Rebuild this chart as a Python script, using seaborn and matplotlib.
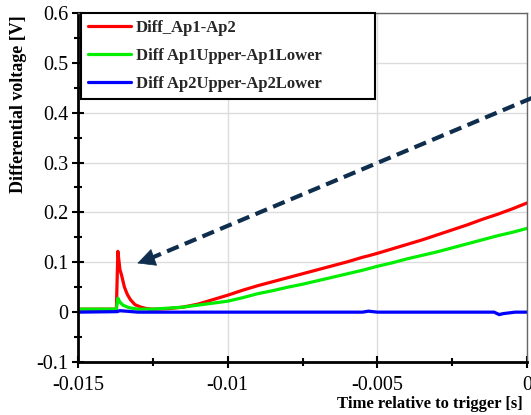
import matplotlib
matplotlib.use('Agg')
import matplotlib.pyplot as plt
import pandas as pd
import seaborn as sns

# values
t_ap1_ap2 = [-0.015, -0.01372, -0.01367, -0.0136, -0.01355, -0.01345, -0.01335, -0.01325,
             -0.0131, -0.0129, -0.0127, -0.0125, -0.012, -0.0115, -0.011, -0.0105, -0.010,
             -0.0095, -0.009, -0.0085, -0.008, -0.0075, -0.007, -0.0065, -0.006, -0.0055,
             -0.0053, -0.005, -0.0045, -0.004, -0.0035, -0.003, -0.0025, -0.002, -0.0015,
             -0.001, -0.0005, 0.0]
v_ap1_ap2 = [0.006, 0.006, 0.122, 0.085, 0.075, 0.050, 0.035, 0.025,
             0.015, 0.010, 0.007, 0.006, 0.007, 0.010, 0.016, 0.025, 0.034,
             0.044, 0.053, 0.061, 0.069, 0.077, 0.085, 0.093, 0.101, 0.110,
             0.113, 0.118, 0.127, 0.136, 0.145, 0.155, 0.165, 0.175, 0.186,
             0.196, 0.207, 0.219]

t_ap1 = [-0.015, -0.01372, -0.01367, -0.0136, -0.0135, -0.0133, -0.013, -0.0125, -0.012,
         -0.0115, -0.011, -0.0105, -0.010, -0.0095, -0.009, -0.0085, -0.008, -0.0075,
         -0.007, -0.0065, -0.006, -0.0055, -0.005, -0.0045, -0.004, -0.0035, -0.003,
         -0.0025, -0.002, -0.0015, -0.001, -0.0005, 0.0]
v_ap1 = [0.006, 0.006, 0.028, 0.020, 0.014, 0.009, 0.006, 0.006, 0.008,
         0.010, 0.014, 0.018, 0.022, 0.029, 0.037, 0.043, 0.050, 0.056,
         0.063, 0.070, 0.077, 0.084, 0.092, 0.099, 0.107, 0.114, 0.121,
         0.129, 0.137, 0.145, 0.153, 0.160, 0.168]

t_ap2 = [-0.015, -0.0137, -0.0136, -0.013, -0.0055, -0.0053, -0.005, -0.0011,
         -0.00093, -0.0008, -0.0004, 0.0]
v_ap2 = [0.0, 0.001, 0.003, 0.0, 0.0, 0.002, 0.0, 0.0,
         -0.005, -0.003, 0.0, 0.0]

labels = ['Diff_Ap1-Ap2', 'Diff Ap1Upper-Ap1Lower', 'Diff Ap2Upper-Ap2Lower']
colors = ['#ff0000', '#00ee00', '#0000ff']

df = pd.concat([
    pd.DataFrame({'t': t_ap1_ap2, 'v': v_ap1_ap2, 'series': labels[0]}),
    pd.DataFrame({'t': t_ap1, 'v': v_ap1, 'series': labels[1]}),
    pd.DataFrame({'t': t_ap2, 'v': v_ap2, 'series': labels[2]}),
])

sns.set_theme(style='whitegrid')
plt.rcParams['font.family'] = ['Liberation Serif', 'DejaVu Serif']

fig = plt.figure(figsize=(5.31, 4.15), dpi=100)
ax = fig.add_axes([0.147, 0.1277, 0.8456, 0.841])

sns.lineplot(data=df, x='t', y='v', hue='series', palette=colors, linewidth=2.3,
             sort=False, estimator=None, ax=ax)

ax.set_xlim(-0.015, 0)
ax.set_ylim(-0.1, 0.6)
ax.set_xticks([-0.015, -0.01, -0.005, 0])
ax.set_xticklabels(['-0.015', '-0.01', '-0.005', '0'])
ax.set_xticks([-0.0125, -0.0075, -0.0025], minor=True)
ax.set_yticks([-0.1, 0, 0.1, 0.2, 0.3, 0.4, 0.5, 0.6])
ax.set_yticklabels(['-0.1', '0', '0.1', '0.2', '0.3', '0.4', '0.5', '0.6'])
ax.set_yticks([-0.05, 0.05, 0.15, 0.25, 0.35, 0.45, 0.55], minor=True)

ax.grid(True, which='major', color='#dcdcdc', linewidth=1)
ax.grid(False, which='minor')
ax.tick_params(which='both', direction='inout', color='black', width=1.5,
               labelsize=14.5, labelcolor='black', left=True, bottom=True)
ax.tick_params(which='major', length=8)
ax.tick_params(which='minor', length=6)
ax.tick_params(axis='x', which='major', pad=6)
ax.tick_params(axis='y', which='major', pad=3)

for side in ['left', 'bottom']:
    ax.spines[side].set_color('black')
    ax.spines[side].set_linewidth(2)
for side in ['top', 'right']:
    ax.spines[side].set_color('#666666')
    ax.spines[side].set_linewidth(1)

ax.set_ylabel('Differential voltage [V]', fontsize=13, fontweight='bold', color='black')
ax.yaxis.set_label_coords(-0.114, 0.739)
ax.set_xlabel('Time relative to trigger [s]', fontsize=12, fontweight='bold', color='black',
              ha='right', va='top')
ax.xaxis.set_label_coords(0.991, -0.097)

leg = ax.legend(loc='upper left', bbox_to_anchor=(0.0067, 0.0, 0.655, 1.0), mode='expand',
                borderaxespad=0, prop={'weight': 'bold', 'size': 12}, frameon=True,
                fancybox=False, framealpha=1, handlelength=2.6, handletextpad=0.3,
                labelspacing=0.74, borderpad=0.4)
leg.get_frame().set_edgecolor('black')
leg.get_frame().set_linewidth(1.5)
for line in leg.get_lines():
    line.set_linewidth(2.3)

# dashed arrow pointing at the spike
ax.plot([0.0003, -0.0127], [0.433, 0.105], linestyle=(0, (3, 1.6)), color='#0f2d4d',
        linewidth=3, clip_on=False, zorder=5)
ax.annotate('', xy=(-0.01302, 0.098), xytext=(-0.0126, 0.107),
            arrowprops=dict(arrowstyle='-|>,head_length=1.0,head_width=0.5',
                            color='#0f2d4d', linewidth=0.5, shrinkA=0, shrinkB=0),
            zorder=6)

fig.savefig('out.png', dpi=100)
